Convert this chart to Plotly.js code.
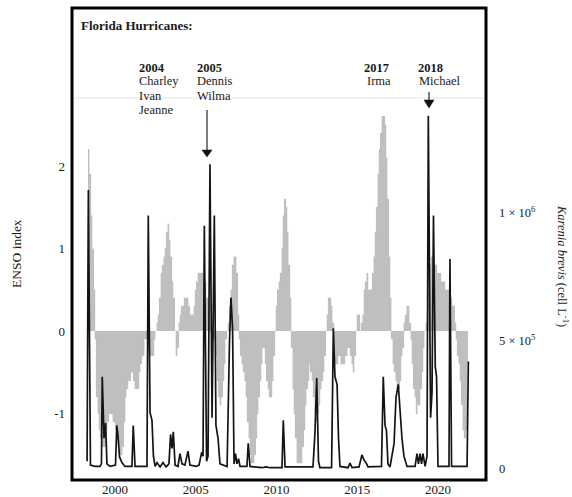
<!DOCTYPE html>
<html><head><meta charset="utf-8">
<script src="https://cdn.plot.ly/plotly-3.0.1.min.js"></script>
<style>
html,body{margin:0;padding:0;background:#fff;}
#chart{width:572px;height:497px;}
#chart path.js-fill{shape-rendering:crispEdges;}
</style>
</head><body><div id="chart"></div>
<script>
// ENSO index, one value per month (first month plotted at ensoStartYear)
const ensoStartYear = 1998.33;
const ensoStepYears = 0.085;
const ensoIndex = [
 2.2, 1.9, 1.4, 1.0, 0.5, -0.1, -0.8, -1.0, -1.2, -1.3, -1.4, -1.4,
 -1.4, -1.2, -1.1, -1.0, -1.0, -1.0, -1.1, -1.1, -1.2, -1.3, -1.4, -1.5,
 -1.5, -1.4, -1.1, -0.8, -0.7, -0.6, -0.6, -0.5, -0.5, -0.6, -0.7, -0.7,
 -0.7, -0.5, -0.4, -0.3, -0.3, -0.1, -0.1, -0.1, -0.2, -0.3, -0.3, -0.3,
 -0.1, 0.0, 0.1, 0.2, 0.4, 0.7, 0.8, 0.9, 1.0, 1.2, 1.3, 1.1,
 0.9, 0.6, 0.4, 0.0, -0.3, -0.2, 0.1, 0.2, 0.3, 0.3, 0.4, 0.4,
 0.4, 0.3, 0.2, 0.2, 0.2, 0.3, 0.5, 0.6, 0.7, 0.7, 0.7, 0.7,
 0.6, 0.6, 0.4, 0.4, 0.3, 0.1, -0.1, -0.1, -0.1, -0.3, -0.6, -0.8,
 -0.9, -0.8, -0.6, -0.4, -0.1, 0.0, 0.1, 0.3, 0.5, 0.8, 0.9, 0.9,
 0.7, 0.2, -0.1, -0.3, -0.4, -0.5, -0.6, -0.8, -1.1, -1.3, -1.5, -1.6,
 -1.6, -1.5, -1.3, -1.0, -0.8, -0.6, -0.4, -0.2, -0.2, -0.4, -0.6, -0.7,
 -0.8, -0.8, -0.6, -0.3, 0.0, 0.3, 0.5, 0.6, 0.7, 1.0, 1.4, 1.6,
 1.5, 1.2, 0.8, 0.4, -0.2, -0.7, -1.0, -1.3, -1.6, -1.6, -1.6, -1.6,
 -1.4, -1.2, -0.9, -0.7, -0.6, -0.4, -0.5, -0.6, -0.8, -1.0, -1.1, -1.0,
 -0.9, -0.7, -0.6, -0.5, -0.3, 0.0, 0.2, 0.4, 0.4, 0.3, 0.1, -0.2,
 -0.4, -0.4, -0.3, -0.3, -0.4, -0.4, -0.4, -0.3, -0.3, -0.2, -0.2, -0.3,
 -0.4, -0.5, -0.3, 0.0, 0.2, 0.2, 0.0, 0.1, 0.2, 0.5, 0.6, 0.7,
 0.5, 0.5, 0.5, 0.7, 0.9, 1.2, 1.5, 1.9, 2.2, 2.4, 2.6, 2.6,
 2.5, 2.1, 1.6, 0.9, 0.4, -0.1, -0.4, -0.5, -0.6, -0.7, -0.7, -0.6,
 -0.3, -0.2, 0.1, 0.2, 0.3, 0.3, 0.1, -0.1, -0.4, -0.7, -0.8, -1.0,
 -0.9, -0.9, -0.7, -0.5, -0.2, 0.0, 0.1, 0.2, 0.5, 0.8, 0.9, 0.8,
 0.8, 0.8, 0.7, 0.7, 0.7, 0.6, 0.6, 0.6, 0.5, 0.5, 0.5, 0.4,
 0.4, 0.3, 0.3, 0.1, -0.1, -0.3, -0.4, -0.6, -0.9, -1.2, -1.3, -1.2,
 -0.4
];

// Karenia brevis abundance (cells per litre)
const kbYear = [
 1998.27, 1998.35, 1998.48, 1998.76, 1999.07,
 1999.16, 1999.21, 1999.32, 1999.42, 1999.50,
 1999.69, 2000.03, 2000.11, 2000.19, 2000.28,
 2000.43, 2000.62, 2001.05, 2001.13, 2001.24,
 2001.98, 2002.06, 2002.17, 2002.29, 2002.38,
 2002.48, 2002.60, 2002.79, 2002.97, 2003.16,
 2003.34, 2003.44, 2003.53, 2003.61, 2003.72,
 2003.90, 2004.02, 2004.15, 2004.33, 2004.52,
 2004.64, 2005.02, 2005.20, 2005.37, 2005.45,
 2005.53, 2005.67, 2005.76, 2005.88, 2006.01,
 2006.15, 2006.25, 2006.38, 2006.50, 2006.94,
 2007.09, 2007.18, 2007.28, 2007.37, 2007.46,
 2007.55, 2007.65, 2007.74, 2008.17, 2008.25,
 2008.36, 2009.10, 2009.35, 2009.60, 2010.34,
 2010.42, 2010.53, 2012.26, 2012.38, 2012.49,
 2012.60, 2012.69, 2013.41, 2013.52, 2013.62,
 2013.75, 2013.84, 2013.93, 2014.43, 2014.55,
 2014.68, 2015.11, 2015.29, 2015.42, 2015.54,
 2015.67, 2016.50, 2016.61, 2016.72, 2016.81,
 2016.90, 2017.03, 2017.28, 2017.40, 2017.54,
 2017.65, 2017.77, 2017.89, 2018.08, 2018.58,
 2018.70, 2018.79, 2018.89, 2018.98, 2019.07,
 2019.20, 2019.32, 2019.40, 2019.54, 2019.63,
 2019.72, 2019.83, 2019.91, 2020.00, 2020.68,
 2020.74, 2020.84, 2021.80, 2021.88
];
const kbCells = [
 3e4, 1.09e6, 1.5e4, 1e4, 1e4,
 2e4, 3.6e5, 1.2e5, 1.8e5, 2e4,
 1e4, 1.5e4, 1.7e5, 1.25e5, 4.7e4,
 2.5e4, 1e4, 1e4, 1.7e5, 1e4,
 1e4, 9.9e5, 2.2e5, 1.9e5, 5e4,
 1e4, 2.5e4, 8e3, 2.5e4, 8e3,
 2e4, 1.35e5, 8e4, 1.45e5, 1.5e4,
 1e4, 6e4, 2e4, 1.5e4, 7e4,
 1.5e4, 1e4, 1.5e4, 6.6e4, 5e4,
 9.5e5, 3e4, 5e4, 1.19e6, 2e5,
 9.9e5, 1.7e5, 1.2e5, 2e4, 1e4,
 5e5, 6.7e5, 5.5e5, 2e4, 6e4,
 2e4, 4e4, 1e4, 1e4, 1e5,
 1e4, 5e3, 8e3, 5e3, 5e3,
 1.9e5, 8e3, 8e3, 1.4e5, 3.55e5,
 3e4, 5e3, 5e3, 5.5e5, 3.6e5,
 3.3e5, 1.2e5, 1e4, 5e3, 2.3e4,
 5e3, 8e3, 5.5e4, 3.5e4, 2.5e4,
 8e3, 1e4, 3.6e5, 1.7e5, 1.5e5,
 2e4, 8e3, 1e5, 2.8e5, 3.3e5,
 2.3e5, 1.2e5, 5e4, 1e4, 1e4,
 6e4, 2e4, 6e4, 2e4, 6e4,
 1e4, 5e4, 1.38e6, 2e5, 3e5,
 9.9e5, 4e5, 3.6e5, 1e4, 1e4,
 8.2e5, 1e4, 1e4, 4.2e5
];

const xTickVals = [2000, 2005, 2010, 2015, 2020];
const ensoTickVals = [-1, 0, 1, 2];
const ensoTickText = ['-1', '0', '1', '2'];
const kbTickVals = [0, 5e5, 1e6];
const kbTickText = ['0', '5 \u00d7 10<sup>5</sup>', '1 \u00d7 10<sup>6</sup>'];

const headerText = 'Florida Hurricanes:';
const hurricaneYears = ['2004', '2005', '2017', '2018'];
const hurricaneNames = [['Charley', 'Ivan', 'Jeanne'], ['Dennis', 'Wilma'], ['Irma'], ['Michael']];

// ---- layout helpers (pixel -> paper) ----
const PL = 72, PR = 486, PT = 8, PB = 480;
const px = v => (v - PL) / (PR - PL);
const py = v => (PB - v) / (PB - PT);
const FONT = 'Liberation Serif, Times New Roman, serif';
const GRAY = '#bfbfbf';

// monthly steps: each value holds from its month start to the next month start
const stepX = [], stepY = [];
ensoIndex.forEach((v, i) => {
  const t0 = ensoStartYear + i * ensoStepYears;
  stepX.push(t0, t0 + ensoStepYears);
  stepY.push(v, v);
});

const traces = [
  {
    type: 'scatter', mode: 'lines', x: stepX, y: stepY, fill: 'tozeroy',
    fillcolor: GRAY, line: {color: GRAY, width: 0.5, simplify: false},
    hoverinfo: 'skip', showlegend: false
  },
  {
    type: 'scatter', mode: 'lines', x: kbYear, y: kbCells, yaxis: 'y2',
    line: {color: '#141414', width: 1.7, simplify: false}, hoverinfo: 'skip', showlegend: false
  }
];

const annotations = [];
function txt(text, x, y, opts) {
  annotations.push(Object.assign({
    text: text, xref: 'paper', yref: 'paper', x: px(x), y: py(y),
    xanchor: 'left', yanchor: 'middle', showarrow: false, borderpad: 0,
    font: {family: FONT, size: 12.5, color: '#1a1a1a'}
  }, opts || {}));
}
txt('<b>' + headerText + '</b>', 80, 25, {font: {family: FONT, size: 13, color: '#1a1a1a'}});
const colX = [138, 196, 363, 417];
const nameX = [138, 196, 366, 418];
const lineY = [67.5, 81.5, 95.5, 109.5];
hurricaneYears.forEach((yr, k) => {
  txt('<b>' + yr + '</b>', colX[k], lineY[0]);
  hurricaneNames[k].forEach((n, j) => txt(n, nameX[k], lineY[j + 1]));
});
// axis titles
txt('ENSO index', 17, 254, {xanchor: 'center', textangle: -90, font: {family: FONT, size: 13.5, color: '#1a1a1a'}});
txt('<i>Karenia brevis</i> (cell L<sup>-1</sup>)', 563, 266, {xanchor: 'center', textangle: 90, font: {family: FONT, size: 12.5, color: '#1a1a1a'}});

// arrows as shapes (paper coordinates from pixel helpers)
function arrow(x, yTop, yTip, headW, headH) {
  return [
    {type: 'line', xref: 'paper', yref: 'paper', x0: px(x), x1: px(x), y0: py(yTop), y1: py(yTip - headH + 1),
     line: {color: '#111', width: 1.1}, layer: 'above'},
    {type: 'path', xref: 'paper', yref: 'paper',
     path: 'M ' + px(x - headW / 2) + ' ' + py(yTip - headH) + ' L ' + px(x + headW / 2) + ' ' + py(yTip - headH) +
           ' L ' + px(x) + ' ' + py(yTip) + ' Z',
     fillcolor: '#111', line: {color: '#111', width: 0.5}, layer: 'above'}
  ];
}

const layout = {
  width: 572, height: 497,
  margin: {l: PL, r: 572 - PR, t: PT, b: 497 - PB, pad: 0},
  paper_bgcolor: '#fff', plot_bgcolor: '#fff',
  font: {family: FONT, size: 13, color: '#1a1a1a'},
  showlegend: false, dragmode: false, hovermode: false,
  xaxis: {range: [1997.337, 2022.972], tickvals: xTickVals, ticks: '', showgrid: false,
          zeroline: false, showline: false, tickfont: {family: FONT, size: 13}, fixedrange: true},
  yaxis: {range: [-1.806, 3.915], tickvals: ensoTickVals, ticktext: ensoTickText, ticks: '',
          showgrid: false, zeroline: false, showline: false, ticklabelstandoff: 6,
          tickfont: {family: FONT, size: 13}, fixedrange: true},
  yaxis2: {range: [-4.3e4, 1.8007e6], overlaying: 'y', side: 'right', tickvals: kbTickVals,
           ticktext: kbTickText, ticks: '', showgrid: false, zeroline: false, showline: false,
           ticklabelstandoff: 12, tickfont: {family: FONT, size: 12.5}, fixedrange: true},
  shapes: [
    {type: 'line', xref: 'paper', yref: 'paper', x0: 0, x1: 1, y0: py(98), y1: py(98),
     line: {color: '#e4e4e4', width: 1}, layer: 'below'},
    ...arrow(207, 110, 157, 10, 7),
    ...arrow(429, 92, 108, 10, 8),
    {type: 'rect', xref: 'paper', yref: 'paper', x0: 0, x1: 1, y0: 0, y1: 1,
     line: {color: '#000', width: 3}, layer: 'above'}
  ],
  annotations: annotations
};

Plotly.newPlot('chart', traces, layout, {displayModeBar: false});
</script>
</body></html>
